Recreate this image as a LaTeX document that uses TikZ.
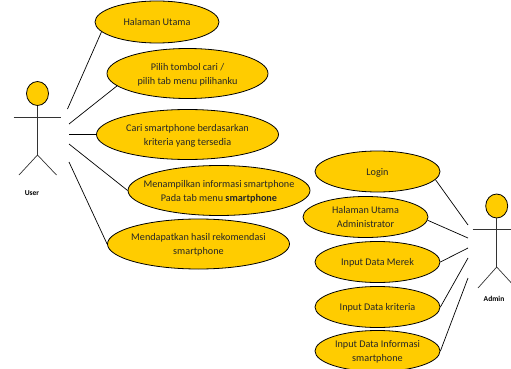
\documentclass[tikz,border=0pt]{standalone}
\usepackage{fontspec}
\setmainfont{Carlito}
\usepackage{xcolor}
\usetikzlibrary{shapes.geometric}
\definecolor{ucfill}{HTML}{FFCC00}
\tikzset{
	x=1pt, y=-1pt,
	usecase/.style={ellipse, draw=black, fill=ucfill, line width=0.8pt, inner xsep=-30pt, inner ysep=-6pt, align=center, text depth=0pt, font=\fontsize{10.2}{14}\selectfont, text=black!85},
	bigcase/.style={usecase, minimum width=182pt, minimum height=50pt}, % wide ones on the left
	smallcase/.style={usecase, minimum width=125pt, minimum height=41pt}, % ones on the admin side
	actorhead/.style={ellipse, draw=black, fill=ucfill, line width=0.8pt, minimum width=22pt, minimum height=24pt, inner sep=0pt},
	actorline/.style={draw=black!80, line width=0.7pt},
	actorname/.style={font=\bfseries\fontsize{7.5}{9}\selectfont},
	assoc/.style={draw=black, line width=0.7pt},
}
\begin{document}
\begin{tikzpicture}
		\useasboundingbox (0,0) rectangle (511,369);

		\node[usecase,minimum width=124pt,minimum height=42pt] (uc1) at (157,22) {Halaman Utama};
		\node[usecase,minimum width=161pt,minimum height=50pt] (uc2) at (187.5,73.5) {Pilih tombol cari /\\pilih tab menu pilihanku};
		\node[bigcase] (uc3) at (187.5,134.5) {Cari smartphone berdasarkan\\kriteria yang tersedia};
		\node[bigcase] (uc4) at (219,190.5) {Menampilkan informasi smartphone\\Pada tab menu \textbf{smartphone}};
		\node[bigcase] (uc5) at (198.5,244) {Mendapatkan hasil rekomendasi\\smartphone};

		\node[smallcase] (ad1) at (377.5,171.5) {Login};
		\node[smallcase] (ad2) at (365.5,217) {Halaman Utama\\Administrator};
		\node[smallcase] (ad3) at (377.5,262) {Input Data Merek};
		\node[smallcase] (ad4) at (377.5,307) {Input Data kriteria};
		\node[smallcase] (ad5) at (377.5,351) {Input Data Informasi\\smartphone};

		% user figure
		\node[actorhead] (userhead) at (37.5,93.5) {};
		\coordinate (userhip) at (37.5,155);
		\coordinate (userarml) at (13.5,117);
		\coordinate (userarmr) at (60.5,117);
		\coordinate (userlegl) at (19,175);
		\coordinate (userlegr) at (56.5,175);
		\draw[actorline] (userhead) -- (userhip);
		\draw[actorline] (userarml) -- (userarmr);
		\draw[actorline] (userlegl) -- (userhip) -- (userlegr);
		\node[actorname] (username) at (32,193) {User};

		% admin figure
		\node[actorhead] (adminhead) at (496.7,206) {};
		\coordinate (adminhip) at (496.7,267);
		\coordinate (adminarml) at (472.7,229);
		\coordinate (adminarmr) at (520,229);
		\coordinate (adminlegl) at (478,288);
		\coordinate (adminlegr) at (516,288);
		\draw[actorline] (adminhead) -- (adminhip);
		\draw[actorline] (adminarml) -- (adminarmr);
		\draw[actorline] (adminlegl) -- (adminhip) -- (adminlegr);
		\node[actorname] (adminname) at (494,299) {Admin};

		% free ends next to the figures
		\coordinate (ue1) at (67.5,109);
		\coordinate (ue2) at (69,124);
		\coordinate (ue3) at (69,134.5);
		\coordinate (ue4) at (69,144);
		\coordinate (ue5) at (69,162);
		\coordinate (ae1) at (468,225);
		\coordinate (ae2) at (468,238);
		\coordinate (ae3) at (468,248);
		\coordinate (ae4) at (468,258);
		\coordinate (ae5) at (468,278);

		\foreach \x/\a in {1/190,2/190,3/180,4/180,5/180}
		{
			\draw[assoc] (ue\x) -- (uc\x.\a);
		}

		\foreach \x/\a in {1/-8,2/-3,3/0,4/0,5/0}
		{
			\draw[assoc] (ae\x) -- (ad\x.\a);
		}

	\end{tikzpicture}
\end{document}
